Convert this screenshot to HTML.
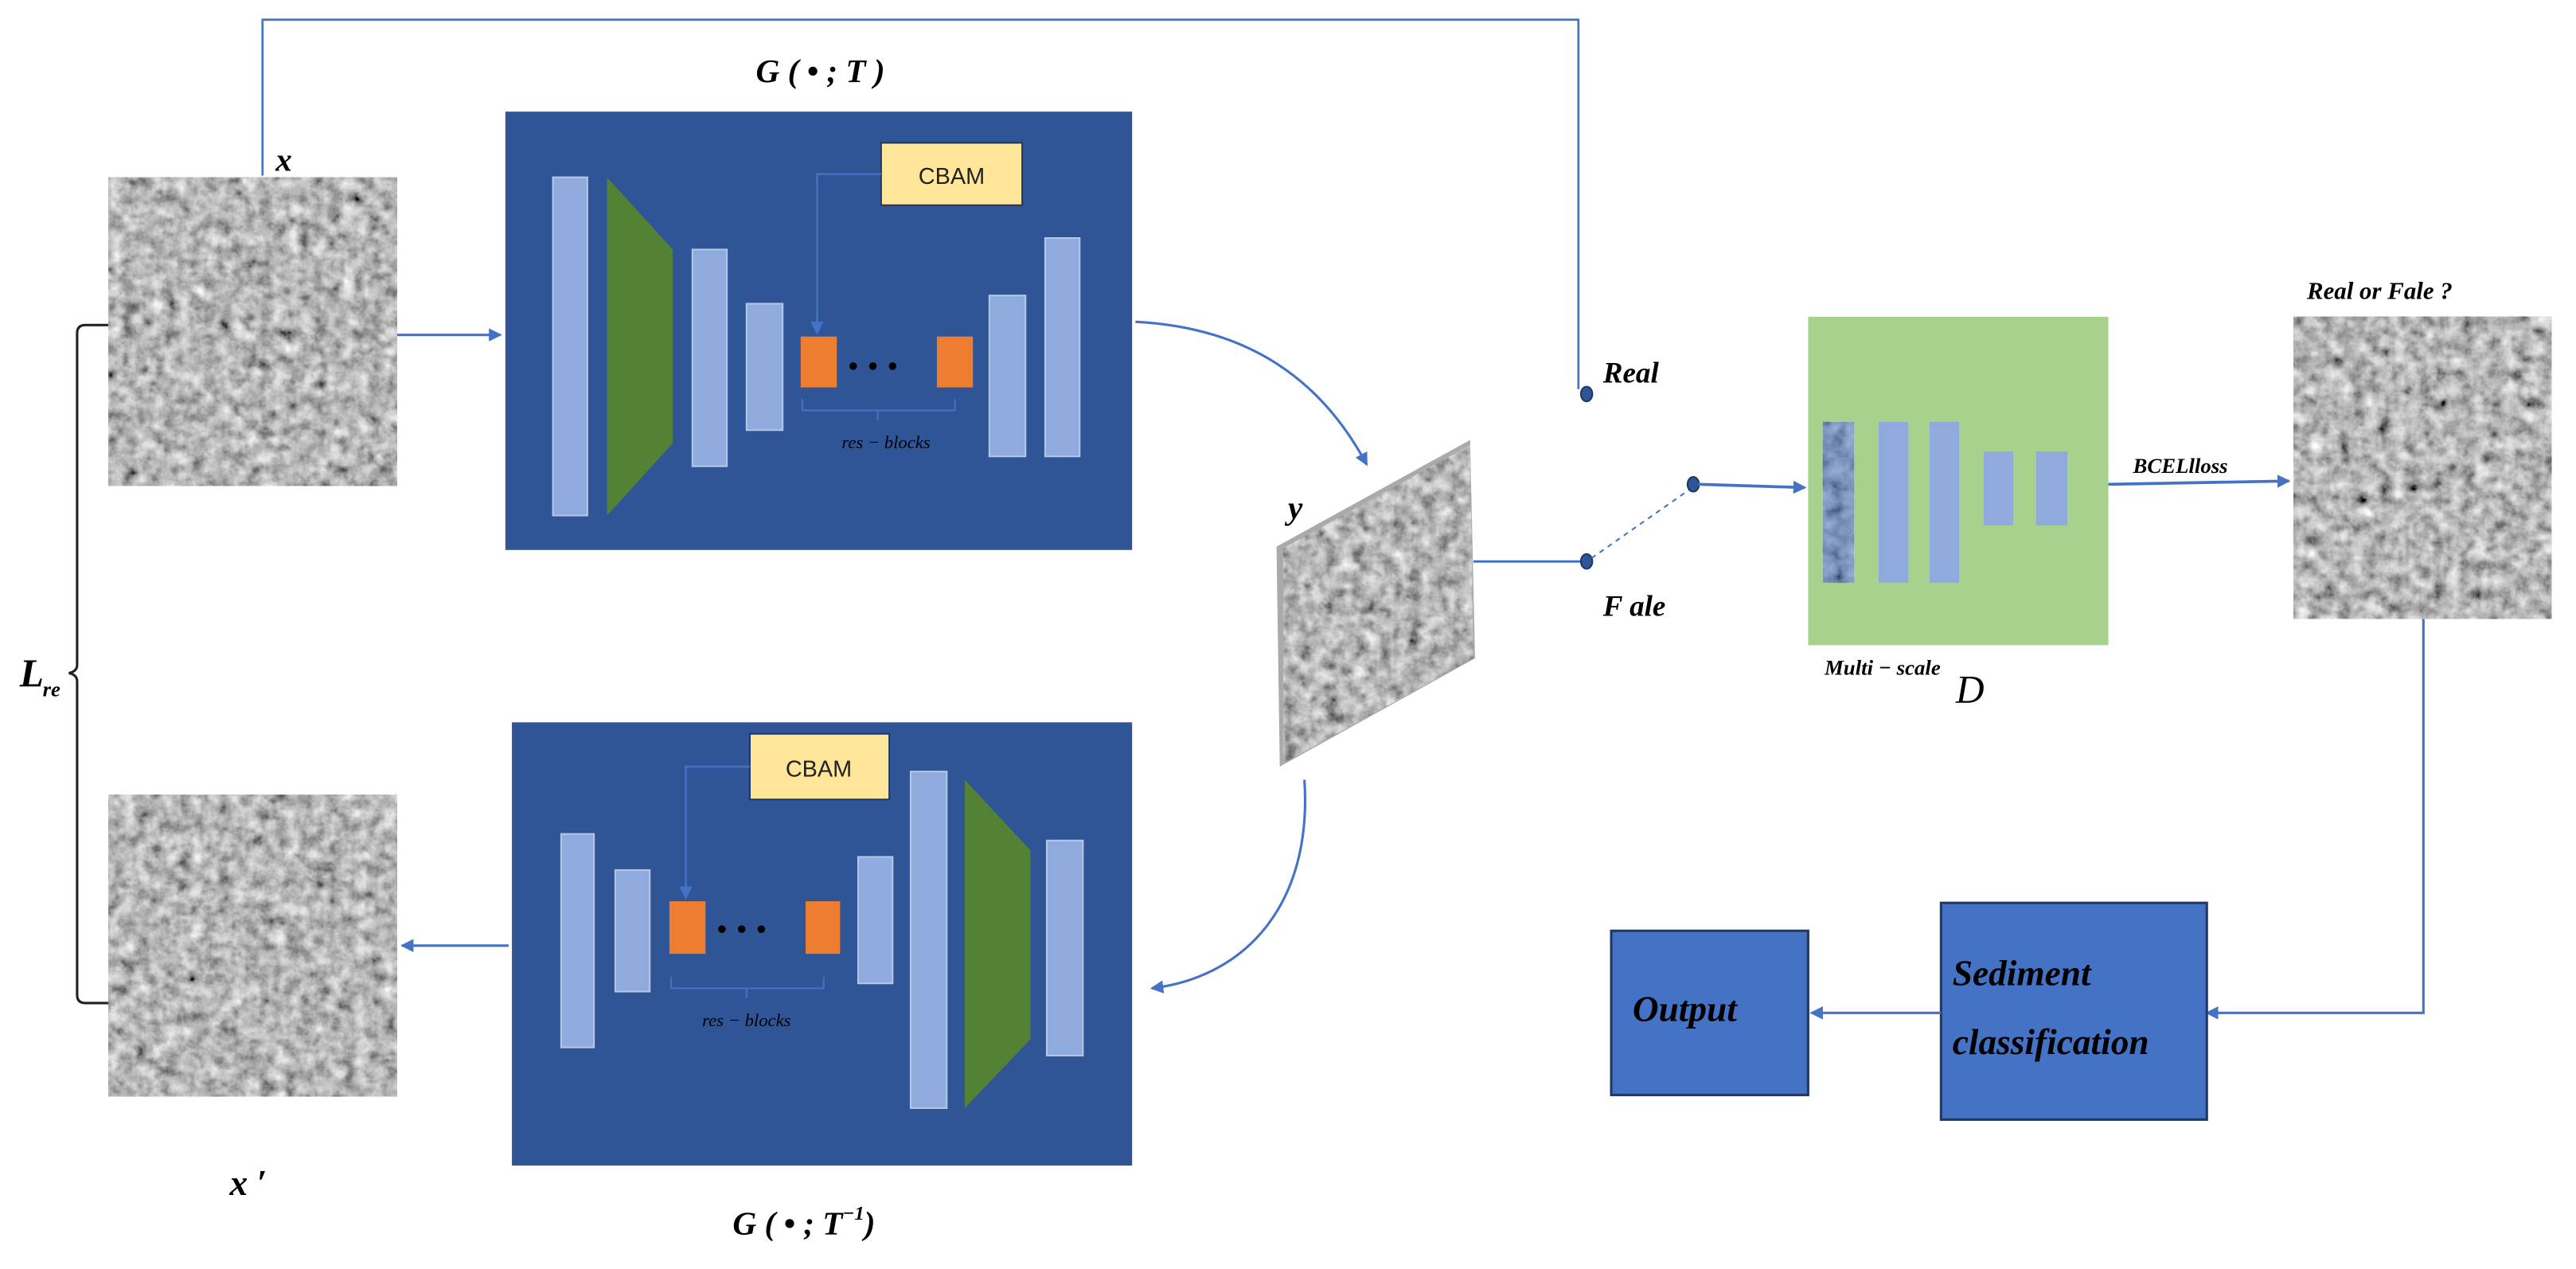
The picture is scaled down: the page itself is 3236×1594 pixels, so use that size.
<!DOCTYPE html>
<html><head><meta charset="utf-8"><style>
html,body{margin:0;padding:0;background:#fff;}
svg{display:block;}
text{font-family:"Liberation Serif",serif;}
</style></head><body>
<svg width="3236" height="1594" viewBox="0 0 1570 773" preserveAspectRatio="none" xmlns="http://www.w3.org/2000/svg">
<defs>
<filter id="tex" x="0" y="0" width="100%" height="100%">
<feTurbulence type="fractalNoise" baseFrequency="0.12" numOctaves="5" seed="3" result="n"/>
<feColorMatrix in="n" type="matrix" values="0.33 0.33 0.33 0 0  0.33 0.33 0.33 0 0  0.33 0.33 0.33 0 0  0 0 0 0 1" result="g"/>
<feComponentTransfer in="g"><feFuncR type="linear" slope="1.8" intercept="-0.42"/><feFuncG type="linear" slope="1.8" intercept="-0.42"/><feFuncB type="linear" slope="1.8" intercept="-0.42"/></feComponentTransfer>
</filter>
<clipPath id="yc"><polygon points="782,334 896,271 898,401 782,465"/></clipPath>
<marker id="ar" markerWidth="8" markerHeight="8" refX="7" refY="4" orient="auto" markerUnits="userSpaceOnUse"><path d="M0,0 L8,4 L0,8 z" fill="#4472c4"/></marker>
</defs>

<!-- images -->
<rect x="66" y="108" width="176" height="188" fill="#777"/>
<rect x="66" y="108" width="176" height="188" filter="url(#tex)"/>
<rect x="66" y="484" width="176" height="184" fill="#777"/>
<rect x="66" y="484" width="176" height="184" filter="url(#tex)"/>
<rect x="1398" y="193" width="157" height="184" fill="#777"/>
<rect x="1398" y="193" width="157" height="184" filter="url(#tex)"/>
<polygon points="778,333 896,268 899,401 780,467" fill="#aaa"/>
<g clip-path="url(#yc)"><rect x="778" y="268" width="122" height="200" filter="url(#tex)"/></g>

<!-- top feedback line -->
<polyline points="160,107 160,12 962,12 962,237" fill="none" stroke="#4472c4" stroke-width="1.3"/>
<line x1="242" y1="204" x2="305" y2="204" stroke="#4472c4" stroke-width="1.5" marker-end="url(#ar)"/>

<!-- generator 1 -->
<rect x="308" y="68" width="382" height="267" fill="#2f5597"/>
<rect x="337" y="108" width="21" height="206" fill="#8faadc" stroke="#b4c7e7" stroke-width="1"/>
<polygon points="370,108 410,152 410,270 370,314" fill="#548235"/>
<rect x="422" y="152" width="21" height="132" fill="#8faadc" stroke="#b4c7e7"/>
<rect x="455" y="185" width="22" height="77" fill="#8faadc" stroke="#b4c7e7"/>
<rect x="488" y="205" width="22" height="31" fill="#ed7d31"/>
<rect x="571" y="205" width="22" height="31" fill="#ed7d31"/>
<circle cx="520" cy="223" r="2.3" fill="#000"/><circle cx="532" cy="223" r="2.3" fill="#000"/><circle cx="544" cy="223" r="2.3" fill="#000"/>
<rect x="603" y="180" width="22" height="98" fill="#8faadc" stroke="#b4c7e7"/>
<rect x="637" y="145" width="21" height="133" fill="#8faadc" stroke="#b4c7e7"/>
<rect x="537" y="87" width="86" height="38" fill="#ffe699" stroke="#1f3864" stroke-width="1"/>
<text x="580" y="112" font-size="14" text-anchor="middle" fill="#222" style="font-family:'Liberation Sans',sans-serif">CBAM</text>
<polyline points="537,106 498,106 498,203" fill="none" stroke="#4472c4" stroke-width="1.2" marker-end="url(#ar)"/>
<path d="M489,243 v7 h93 v-7 M535,250 v6" fill="none" stroke="#4472c4" stroke-width="1"/>
<text x="540" y="273" font-size="11" font-style="italic" text-anchor="middle">res − blocks</text>
<text x="500" y="50" font-size="20" font-weight="bold" font-style="italic" text-anchor="middle">G ( • ; T )</text>
<text x="168" y="104" font-size="20" font-weight="bold" font-style="italic">x</text>

<!-- curve to y -->
<path d="M692,196 C770,200 810,240 833,283" fill="none" stroke="#4472c4" stroke-width="1.5" marker-end="url(#ar)"/>
<text x="785" y="316" font-size="20" font-weight="bold" font-style="italic">y</text>

<!-- switch -->
<line x1="898" y1="342" x2="967" y2="342" stroke="#4472c4" stroke-width="1.5"/>
<ellipse cx="967" cy="342" rx="3.5" ry="4.5" fill="#2f5597" stroke="#1f3864"/>
<ellipse cx="967" cy="240" rx="3.5" ry="4.5" fill="#2f5597" stroke="#1f3864"/>
<line x1="970" y1="340" x2="1030" y2="298" stroke="#4472c4" stroke-width="1" stroke-dasharray="3,3"/>
<ellipse cx="1032" cy="295" rx="3.5" ry="4.5" fill="#2f5597" stroke="#1f3864"/>
<line x1="1035" y1="295" x2="1100" y2="297" stroke="#4472c4" stroke-width="1.8" marker-end="url(#ar)"/>
<text x="977" y="233" font-size="18" font-weight="bold" font-style="italic">Real</text>
<text x="977" y="375" font-size="18" font-weight="bold" font-style="italic">F ale</text>

<!-- discriminator -->
<rect x="1102" y="193" width="183" height="200" fill="#a9d18e"/>
<rect x="1111" y="257" width="19" height="98" fill="#4472c4"/>
<rect x="1111" y="257" width="19" height="98" fill="#2f5597" opacity="0.5" filter="url(#tex)"/>
<rect x="1145" y="257" width="18" height="98" fill="#8faadc"/>
<rect x="1176" y="257" width="18" height="98" fill="#8faadc"/>
<rect x="1209" y="275" width="18" height="45" fill="#8faadc"/>
<rect x="1241" y="275" width="19" height="45" fill="#8faadc"/>
<text x="1112" y="411" font-size="13" font-weight="bold" font-style="italic">Multi − scale</text>
<text x="1192" y="428" font-size="24" font-style="italic">D</text>
<line x1="1285" y1="295" x2="1395" y2="293" stroke="#4472c4" stroke-width="1.8" marker-end="url(#ar)"/>
<text x="1300" y="288" font-size="13" font-weight="bold" font-style="italic">BCELlloss</text>
<text x="1406" y="182" font-size="15" font-weight="bold" font-style="italic">Real or Fale ?</text>

<!-- lower right -->
<polyline points="1477,377 1477,617 1345,617" fill="none" stroke="#4472c4" stroke-width="1.5" marker-end="url(#ar)"/>
<rect x="1183" y="550" width="162" height="132" fill="#4472c4" stroke="#1f3864" stroke-width="1.5"/>
<text x="1190" y="600" font-size="22" font-weight="bold" font-style="italic">Sediment</text>
<text x="1190" y="642" font-size="22" font-weight="bold" font-style="italic">classification</text>
<line x1="1183" y1="617" x2="1104" y2="617" stroke="#4472c4" stroke-width="1.5" marker-end="url(#ar)"/>
<rect x="982" y="567" width="120" height="100" fill="#4472c4" stroke="#1f3864" stroke-width="1.5"/>
<text x="995" y="622" font-size="22" font-weight="bold" font-style="italic">Output</text>

<!-- curve from y down -->
<path d="M795,475 C800,550 760,595 702,602" fill="none" stroke="#4472c4" stroke-width="1.5" marker-end="url(#ar)"/>

<!-- generator 2 -->
<rect x="312" y="440" width="378" height="270" fill="#2f5597"/>
<rect x="342" y="508" width="20" height="130" fill="#8faadc" stroke="#b4c7e7"/>
<rect x="375" y="530" width="21" height="74" fill="#8faadc" stroke="#b4c7e7"/>
<rect x="408" y="549" width="22" height="32" fill="#ed7d31"/>
<rect x="491" y="549" width="21" height="32" fill="#ed7d31"/>
<circle cx="440" cy="566" r="2.3" fill="#000"/><circle cx="452" cy="566" r="2.3" fill="#000"/><circle cx="464" cy="566" r="2.3" fill="#000"/>
<rect x="523" y="522" width="21" height="77" fill="#8faadc" stroke="#b4c7e7"/>
<rect x="555" y="470" width="22" height="205" fill="#8faadc" stroke="#b4c7e7"/>
<polygon points="588,475 628,518 628,633 588,675" fill="#548235"/>
<rect x="638" y="512" width="22" height="131" fill="#8faadc" stroke="#b4c7e7"/>
<rect x="457" y="447" width="85" height="40" fill="#ffe699" stroke="#1f3864"/>
<text x="499" y="473" font-size="14" text-anchor="middle" fill="#222" style="font-family:'Liberation Sans',sans-serif">CBAM</text>
<polyline points="457,467 418,467 418,547" fill="none" stroke="#4472c4" stroke-width="1.2" marker-end="url(#ar)"/>
<path d="M409,595 v7 h93 v-7 M455,602 v6" fill="none" stroke="#4472c4" stroke-width="1"/>
<text x="455" y="625" font-size="11" font-style="italic" text-anchor="middle">res − blocks</text>
<line x1="310" y1="576" x2="245" y2="576" stroke="#4472c4" stroke-width="1.5" marker-end="url(#ar)"/>
<text x="490" y="752" font-size="20" font-weight="bold" font-style="italic" text-anchor="middle">G ( • ; T<tspan font-size="12" dy="-9">−1</tspan><tspan dy="9">)</tspan></text>
<text x="140" y="728" font-size="22" font-weight="bold" font-style="italic">x ′</text>

<!-- brace -->
<path d="M66,198 H52 Q47,198 47,203 V405 Q47,409 42,410 Q47,411 47,415 V606 Q47,611 52,611 H66" fill="none" stroke="#222" stroke-width="1.5"/>
<text x="12" y="418" font-size="24" font-weight="bold" font-style="italic">L</text>
<text x="26" y="424" font-size="13" font-weight="bold" font-style="italic">re</text>
</svg>
</body></html>
